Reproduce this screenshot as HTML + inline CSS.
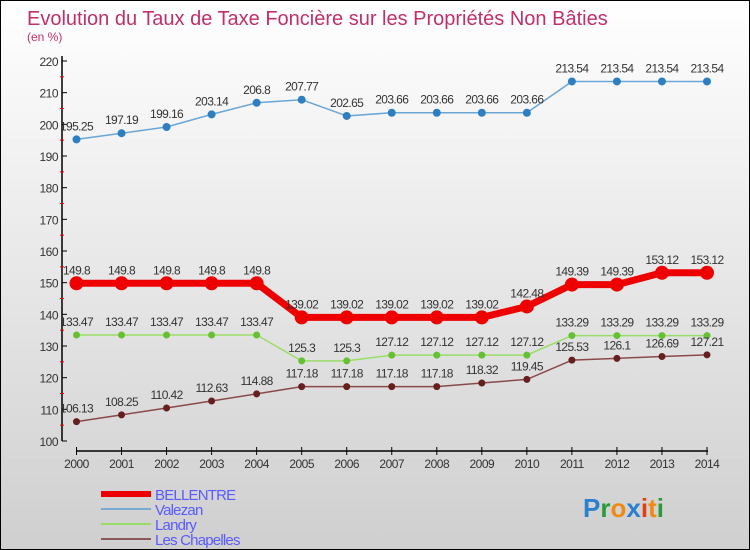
<!DOCTYPE html>
<html><head><meta charset="utf-8"><style>
body{margin:0}
#c{width:748px;height:548px;border:1px solid #000;background:linear-gradient(#ffffff,#cfcfcf);position:relative;overflow:hidden;font-family:"Liberation Sans",sans-serif}
svg{position:absolute;left:0;top:0}
</style></head><body>
<div id="c">
<svg id="s" width="750" height="550">
<text x="26" y="24" font-size="20" fill="#c0306a">Evolution du Taux de Taxe Foncière sur les Propriétés Non Bâties</text>
<text x="26" y="40" font-size="12" fill="#c0306a">(en %)</text>
</svg>
</div>
<script>
const years=[2000,2001,2002,2003,2004,2005,2006,2007,2008,2009,2010,2011,2012,2013,2014];
const bellentre=[149.8,149.8,149.8,149.8,149.8,139.02,139.02,139.02,139.02,139.02,142.48,149.39,149.39,153.12,153.12];
const valezan=[195.25,197.19,199.16,203.14,206.8,207.77,202.65,203.66,203.66,203.66,203.66,213.54,213.54,213.54,213.54];
const landry=[133.47,133.47,133.47,133.47,133.47,125.3,125.3,127.12,127.12,127.12,127.12,133.29,133.29,133.29,133.29];
const chapelles=[106.13,108.25,110.42,112.63,114.88,117.18,117.18,117.18,117.18,118.32,119.45,125.53,126.1,126.69,127.21];
const yTicks=[100,110,120,130,140,150,160,170,180,190,200,210,220];
const yLabels=[100,110,120,130,140,150,160,170,180,190,200,210,220];
const NS="http://www.w3.org/2000/svg",s=document.getElementById('s');
const X=i=>75.5+i*(706-75.5)/(years.length-1);
const Y=v=>440-(v-100)*(380/120);
function el(t,a,p){const e=document.createElementNS(NS,t);for(const k in a)e.setAttribute(k,a[k]);(p||s).appendChild(e);return e;}
let e=el('line',{x1:61,y1:55,x2:61,y2:440,stroke:'#000','stroke-width':1.5});

e=el('line',{x1:75,y1:450,x2:707,y2:450,stroke:'#000','stroke-width':1.5});

yTicks.forEach((v,i)=>{
 let t=el('line',{x1:61,y1:Y(v),x2:66,y2:Y(v),stroke:'#000'});
 
 if(i<yTicks.length-1){let m=el('line',{x1:59,y1:Y(v+5),x2:63,y2:Y(v+5),stroke:'#e00'});
 }
 let l=el('text',{x:57,y:Y(v)+5,'text-anchor':'end','font-size':12,fill:'#333','letter-spacing':'-0.5'});
 l.textContent=yLabels[i];
});
years.forEach((y,i)=>{
 let t=el('line',{x1:X(i),y1:446,x2:X(i),y2:454,stroke:'#000'});
 
 let l=el('text',{x:X(i),y:467,'text-anchor':'middle','font-size':12,fill:'#333','letter-spacing':'-0.5'});
 l.textContent=y;
});
function series(d,name,col,w,r,dot){
 const g=el('g',{});
 let p=el('polyline',{points:d.map((v,i)=>X(i)+','+Y(v)).join(' '),fill:'none',stroke:col,'stroke-width':w,'stroke-linejoin':'round'},g);
 
 d.forEach((v,i)=>{
  let c=el('circle',{cx:X(i),cy:Y(v),r:r,fill:dot},g);
  
  let t=el('text',{x:X(i),y:Y(v)-9,'text-anchor':'middle','font-size':12,fill:'#333','letter-spacing':'-0.6'},g);
  t.textContent=v;
 });
}
series(valezan,'valezan','#6aa6d6',1.5,4,'#2f7fc0');
series(landry,'landry','#99dd66',1.5,3.5,'#66c033');
series(chapelles,'les-chapelles','#8a4a4a',1.5,3.5,'#661f1f');
series(bellentre,'bellentre','#ee0000',7,7,'#ee0000');
const leg=[['BELLENTRE','#ee0000',6],['Valezan','#7aaad0',2],['Landry','#99dd66',2],['Les Chapelles','#8a5a5a',2]];
leg.forEach((L,i)=>{
 const yy=493+i*15;
 let l=el('line',{x1:100,y1:yy,x2:150,y2:yy,stroke:L[1],'stroke-width':L[2]});
 
 let t=el('text',{x:154,y:yy+6,'font-size':15,fill:'#5a5aff','letter-spacing':'-0.8'});
 t.textContent=L[0];
});
const logo=el('text',{x:582,y:516,'font-size':26,'font-weight':'bold'});

[['P','#2a7fd0'],['r','#2a9a3a'],['o','#f08a10'],['x','#2a7fd0'],['i','#e04010'],['t','#f08a10'],['i','#2a9a3a']].forEach(c=>{let t=el('tspan',{fill:c[1]},logo);t.textContent=c[0];});
</script>
</body></html>
